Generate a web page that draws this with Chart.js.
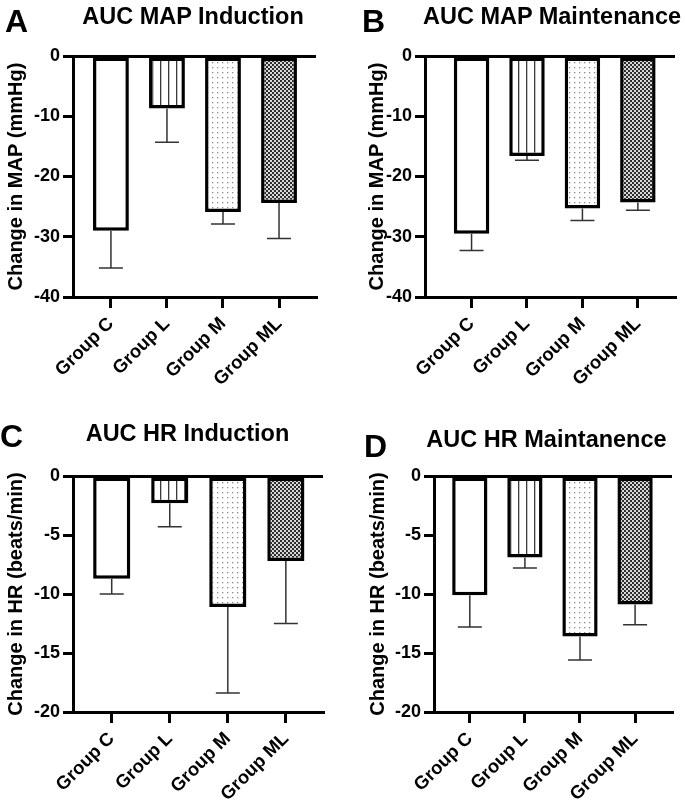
<!DOCTYPE html>
<html>
<head>
<meta charset="utf-8">
<script src="https://cdn.jsdelivr.net/npm/chart.js@4.4.1/dist/chart.umd.min.js"></script>
<style>
  body { margin: 0; background: #fff; }
  #wrap { position: relative; width: 685px; height: 802px; font-family: "Liberation Sans", Arial, sans-serif; }
  canvas { position: absolute; }
  .lbl { position: absolute; font-weight: bold; color: #000; white-space: nowrap; }
  .letter { font-size: 32px; line-height: 32px; }
  .ttl { font-size: 23.5px; line-height: 23.5px; width: 320px; text-align: center; }
</style>
</head>
<body>
<div id="wrap">
  <canvas id="chartA" width="342" height="400" style="left:0;top:0"></canvas>
  <canvas id="chartB" width="343" height="400" style="left:342px;top:0"></canvas>
  <canvas id="chartC" width="342" height="402" style="left:0;top:400px"></canvas>
  <canvas id="chartD" width="343" height="402" style="left:342px;top:400px"></canvas>

  <div class="lbl letter" style="left:5px;top:4.6px">A</div>
  <div class="lbl letter" style="left:362px;top:4.6px">B</div>
  <div class="lbl letter" style="left:0px;top:420.4px">C</div>
  <div class="lbl letter" style="left:364px;top:429.6px">D</div>

  <div class="lbl ttl" style="left:33px;top:5px">AUC MAP Induction</div>
  <div class="lbl ttl" style="left:392px;top:5px">AUC MAP Maintenance</div>
  <div class="lbl ttl" style="left:27.5px;top:422px">AUC HR Induction</div>
  <div class="lbl ttl" style="left:386.5px;top:428px">AUC HR Maintanence</div>
</div>
<script>
var groups = ["Group C", "Group L", "Group M", "Group ML"];

// A: AUC MAP Induction
var mapInductionMean = [-29.0, -8.7, -25.9, -24.4];
var mapInductionErr = [6.2, 5.6, 2.0, 5.9];
// B: AUC MAP Maintenance
var mapMaintMean = [-29.5, -16.6, -25.3, -24.3];
var mapMaintErr = [2.8, 0.7, 2.0, 1.3];
// C: AUC HR Induction
var hrInductionMean = [-8.7, -2.3, -11.1, -7.2];
var hrInductionErr = [1.3, 2.0, 7.3, 5.3];
// D: AUC HR Maintanence
var hrMaintMean = [-10.1, -6.9, -13.6, -10.9];
var hrMaintErr = [2.7, 0.9, 2.0, 1.7];

var mapTicks = { min: -40, max: 0, step: 10 };
var hrTicks = { min: -20, max: 0, step: 5 };

var FONT = '"Liberation Sans", Arial, sans-serif';

var ctxTmp = document.createElement("canvas").getContext("2d");
function pattern(size, draw) {
  var c = document.createElement("canvas");
  c.width = size; c.height = size;
  var g = c.getContext("2d");
  g.fillStyle = "#fff";
  g.fillRect(0, 0, size, size);
  draw(g);
  return ctxTmp.createPattern(c, "repeat");
}

// C plain, L vertical lines, M dots, ML checkerboard
var fills = [
  "#ffffff",
  pattern(8, function (g) { g.fillStyle = "#3a3a3a"; g.fillRect(0, 0, 1.3, 8); }),
  pattern(5, function (g) { g.fillStyle = "#8a8a8a"; g.fillRect(2, 2, 1.3, 1.3); }),
  pattern(4, function (g) {
    g.fillStyle = "#d8d8d8"; g.fillRect(0, 0, 4, 4);
    g.fillStyle = "#2e2e2e"; g.fillRect(0, 0, 2, 2); g.fillRect(2, 2, 2, 2);
  })
];

var errorBars = {
  id: "errorBars",
  afterDatasetsDraw: function (chart) {
    var ctx = chart.ctx, x = chart.scales.x, y = chart.scales.y;
    var ds = chart.data.datasets[0];
    ctx.save();
    ctx.strokeStyle = "#333";
    ctx.lineWidth = 1.5;
    ds.data.forEach(function (p, i) {
      var px = x.getPixelForValue(p.x);
      var top = y.getPixelForValue(p.y);
      var bot = y.getPixelForValue(p.y - ds.errors[i]);
      ctx.beginPath();
      ctx.moveTo(px, top);
      ctx.lineTo(px, bot);
      ctx.moveTo(px - 12, bot);
      ctx.lineTo(px + 12, bot);
      ctx.stroke();
    });
    ctx.restore();
  }
};

function panel(id, means, errs, yt, yLabel, L) {
  return new Chart(document.getElementById(id), {
    type: "bar",
    data: {
      datasets: [{
        data: means.map(function (v, i) { return { x: i, y: v }; }),
        errors: errs,
        backgroundColor: fills,
        borderColor: "#000",
        borderWidth: 3.5,
        borderSkipped: false,
        barPercentage: 0.64,
        categoryPercentage: 1
      }]
    },
    options: {
      responsive: false,
      animation: false,
      layout: { padding: { left: L.left, top: L.top, right: L.right, bottom: 0 } },
      plugins: { legend: { display: false }, tooltip: { enabled: false } },
      scales: {
        x: {
          type: "linear",
          min: L.xmin,
          max: L.xmax,
          offset: false,
          afterBuildTicks: function (s) { s.ticks = groups.map(function (g, i) { return { value: i }; }); },
          afterFit: function (s) { s.height = L.xh; },
          grid: { offset: false, drawOnChartArea: false, drawTicks: true, tickLength: 11, color: "#000", lineWidth: 3 },
          border: { display: true, color: "#000", width: 3 },
          ticks: {
            autoSkip: false, minRotation: 45, maxRotation: 45, padding: 5,
            color: "#000", font: { family: FONT, size: 18.5, weight: "bold" },
            callback: function (v) { return groups[v]; }
          }
        },
        y: {
          min: yt.min,
          max: yt.max,
          afterFit: function (s) { s.width = L.yw; },
          grid: {
            drawOnChartArea: true, drawTicks: true, tickLength: 10, lineWidth: 3, tickColor: "#000",
            color: function (c) { return c.tick && c.tick.value === 0 ? "#000" : "rgba(0,0,0,0)"; }
          },
          border: { display: true, color: "#000", width: 3 },
          ticks: {
            stepSize: yt.step, padding: 3, color: "#000",
            font: { family: FONT, size: 18, weight: "bold" }
          },
          title: {
            display: true, text: yLabel, color: "#000", padding: { top: 4, bottom: 0 },
            font: { family: FONT, size: 20, weight: "bold" }
          }
        }
      }
    },
    plugins: [errorBars]
  });
}

panel("chartA", mapInductionMean, mapInductionErr, mapTicks, "Change in MAP (mmHg)",
  { left: 0, top: 56, right: 26, yw: 73, xh: 103, xmin: -0.677, xmax: 3.66 });
panel("chartB", mapMaintMean, mapMaintErr, mapTicks, "Change in MAP (mmHg)",
  { left: 19, top: 56, right: 10, yw: 64, xh: 103, xmin: -0.84, xmax: 3.67 });
panel("chartC", hrInductionMean, hrInductionErr, hrTicks, "Change in HR (beats/min)",
  { left: 0, top: 76, right: 19, yw: 73, xh: 90, xmin: -0.667, xmax: 3.64 });
panel("chartD", hrMaintMean, hrMaintErr, hrTicks, "Change in HR (beats/min)",
  { left: 20, top: 76, right: 13, yw: 72, xh: 90, xmin: -0.65, xmax: 3.67 });
</script>
</body>
</html>
